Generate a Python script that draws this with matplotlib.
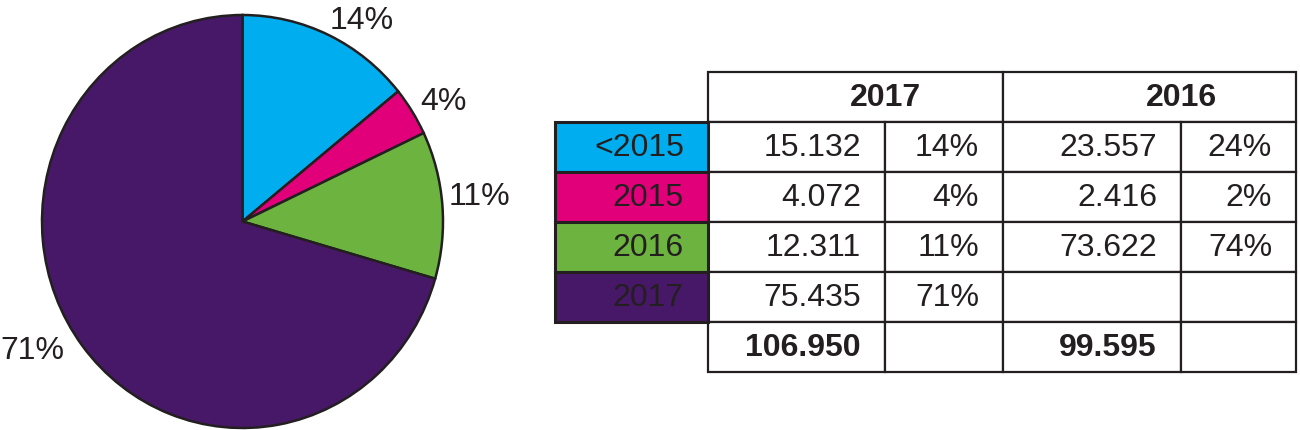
import matplotlib
matplotlib.use('Agg')
import matplotlib.pyplot as plt
from matplotlib.patches import Rectangle

# ---- data ----
categories = ['<2015', '2015', '2016', '2017']
values_2017 = [15.132, 4.072, 12.311, 75.435]
pct_2017 = ['14%', '4%', '11%', '71%']
values_2016 = [23.557, 2.416, 73.622, None]
pct_2016 = ['24%', '2%', '74%', '']
years = ['2017', '2016']
colors = ['#00AEEF', '#E2007A', '#6DB33F', '#481868']

# ---- style / layout ----
W, H = 1300, 430
INK = '#231F20'
FS = 23
plt.rcParams['font.family'] = ['Liberation Sans', 'DejaVu Sans']
# pie label anchor points (pie axes units)
label_xy = [(0.595, 0.99), (1.0, 0.595), (1.18, 0.138), (-1.05, -0.609)]

fig = plt.figure(figsize=(W / 100, H / 100), dpi=100)

# table axes in pixel coordinates
tax = fig.add_axes([0, 0, 1, 1])
tax.set_xlim(0, W)
tax.set_ylim(H, 0)
tax.axis('off')

col_edges = [555, 708, 885, 1003, 1181, 1296]
row_edges = [72, 122, 172, 222, 272, 322, 372]
base_off = 34
pad = 24

def fmt(v):
    return '' if v is None else f'{v:.3f}'

# header
for i, yr in enumerate(years):
    x0 = col_edges[1 + 2 * i]
    x1 = col_edges[3 + 2 * i]
    tax.add_patch(Rectangle((x0, row_edges[0]), x1 - x0, row_edges[1] - row_edges[0],
                            facecolor='white', edgecolor=INK, lw=1.6, zorder=1))
    tax.text(col_edges[2 + 2 * i], row_edges[0] + base_off, yr, ha='center', va='baseline',
             fontsize=FS, fontweight='bold', color=INK, zorder=3)

# body rows
rows = []
for k in range(len(categories)):
    rows.append([fmt(values_2017[k]), pct_2017[k], fmt(values_2016[k]), pct_2016[k]])
total_2017 = sum(values_2017)
total_2016 = sum(v for v in values_2016 if v is not None)
rows.append([fmt(total_2017), '', fmt(total_2016), ''])

for r, row in enumerate(rows):
    y0 = row_edges[r + 1]
    y1 = row_edges[r + 2]
    bold = (r == len(rows) - 1)
    for c, txt in enumerate(row):
        x0 = col_edges[c + 1]
        x1 = col_edges[c + 2]
        tax.add_patch(Rectangle((x0, y0), x1 - x0, y1 - y0, facecolor='white',
                                edgecolor=INK, lw=1.6, zorder=1))
        if txt:
            tax.text(x1 - pad, y0 + base_off, txt, ha='right', va='baseline', fontsize=FS,
                     fontweight='bold' if bold else 'normal', color=INK, zorder=3)

# category label cells
for k, cat in enumerate(categories):
    y0 = row_edges[k + 1]
    y1 = row_edges[k + 2]
    tax.add_patch(Rectangle((col_edges[0], y0), col_edges[1] - col_edges[0], y1 - y0,
                            facecolor=colors[k], edgecolor=INK, lw=2.2, zorder=2))
    tax.text(col_edges[1] - pad, y0 + base_off, cat, ha='right', va='baseline',
             fontsize=FS, color=INK, zorder=3)

# pie
pax = fig.add_axes([42 / W, 1 - 428 / H, 401 / W, 413 / H])
lab_iter = iter(pct_2017)
wedges, texts, autotexts = pax.pie(values_2017, colors=colors, startangle=90, counterclock=False,
                                   radius=1, autopct=lambda p: next(lab_iter), pctdistance=1.18,
                                   wedgeprops=dict(edgecolor=INK, linewidth=1.8),
                                   textprops=dict(fontsize=FS, color=INK))
for w in wedges:
    w.set_clip_on(False)
for t, xy in zip(autotexts, label_xy):
    t.set_position(xy)
    t.set_color(INK)
    t.set_fontsize(FS)
    t.set_ha('center')
    t.set_va('center_baseline')
pax.set_aspect('auto')
pax.set_xlim(-1, 1)
pax.set_ylim(-1, 1)
pax.axis('off')

fig.savefig('out.png', dpi=100)
